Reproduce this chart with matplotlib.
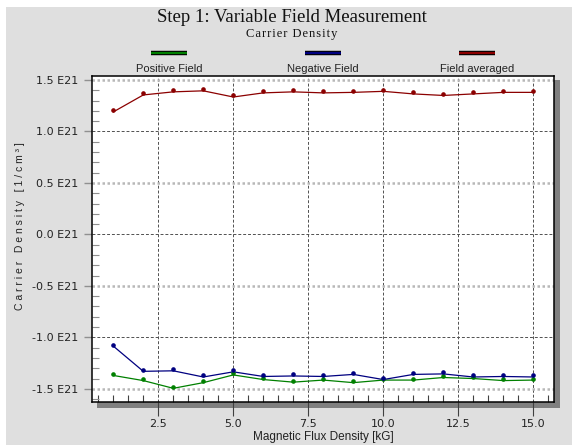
import numpy as np
import matplotlib.pyplot as plt
from matplotlib.patches import Rectangle
from matplotlib.lines import Line2D
from matplotlib.ticker import MultipleLocator, FuncFormatter
from matplotlib import transforms
import matplotlib.patheffects as pe

# field in kG, carrier density in units of 1E21 1/cm^3
field = [1, 2, 3, 4, 5, 6, 7, 8, 9, 10, 11, 12, 13, 14, 15]
positive = [-1.37, -1.42, -1.495, -1.44, -1.365, -1.41, -1.435, -1.415, -1.44,
            -1.415, -1.415, -1.39, -1.40, -1.42, -1.415]
negative = [-1.085, -1.33, -1.325, -1.385, -1.335, -1.38, -1.375, -1.38, -1.36,
            -1.41, -1.36, -1.355, -1.385, -1.38, -1.385]
averaged = [1.19, 1.355, 1.385, 1.395, 1.335, 1.375, 1.385, 1.375, 1.38, 1.39,
            1.365, 1.35, 1.365, 1.38, 1.38]

names = ['Positive Field', 'Negative Field', 'Field averaged']
colors = ['#008000', '#000080', '#8b0000']
series = [positive, negative, averaged]

W, H = 572, 445
fig = plt.figure(figsize=(W / 100, H / 100), dpi=100)
fig.patch.set_facecolor('white')

def fx(px):
    return px / W

def fy(py):
    return 1 - py / H

# gray panel and the drop shadow of the plot box
fig.patches.append(Rectangle((fx(6), 0), 1, fy(7), transform=fig.transFigure,
                             facecolor='#dfdfdf', edgecolor='none', zorder=0))
fig.patches.append(Rectangle((fx(97), fy(408)), fx(560 - 97), (408 - 80) / H,
                             transform=fig.transFigure, facecolor='#808080',
                             edgecolor='none', zorder=1))

ax = fig.add_axes([fx(92), fy(402), fx(554 - 92), (402 - 76) / H])
ax.set_zorder(2)
ax.set_facecolor('white')
ax.set_xlim(0.29, 15.69)
ax.set_ylim(-1.628, 1.539)

for s in ax.spines.values():
    s.set_linewidth(1.1)
    s.set_color('black')

ax.xaxis.set_major_locator(MultipleLocator(2.5))
ax.xaxis.set_minor_locator(MultipleLocator(0.5))
ax.yaxis.set_major_locator(MultipleLocator(0.5))
ax.yaxis.set_minor_locator(MultipleLocator(0.1))
ax.xaxis.set_major_formatter(FuncFormatter(lambda v, p: f'{v:.1f}'))
ax.yaxis.set_major_formatter(FuncFormatter(lambda v, p: f'{v:.1f} E21'))

ax.tick_params(axis='x', which='major', direction='out', length=10, width=0.8,
               color='#404040', labelsize=8, pad=2)
ax.tick_params(axis='x', which='minor', direction='in', length=5, width=0.8,
               color='#404040')
ax.tick_params(axis='y', which='major', direction='out', length=6, width=1,
               color='#909090', labelsize=8, pad=4)
ax.tick_params(axis='y', which='minor', direction='in', length=5, width=0.8,
               color='#909090')
for lab in ax.get_xticklabels() + ax.get_yticklabels():
    lab.set_color('#222222')

# grid
for xv in np.arange(2.5, 15.01, 2.5):
    ax.axvline(xv, color='#505050', lw=0.7, ls=(0, (3, 2)), zorder=1)
for i, yv in enumerate(np.arange(-1.5, 1.51, 0.5)):
    if i % 2 == 0:
        ax.axhline(yv, color='#b8b8b8', lw=1.8, ls=(0, (1, 1)), zorder=1)
    else:
        ax.axhline(yv, color='#505050', lw=0.7, ls=(0, (3, 2)), zorder=1)

# markers sit slightly above the line vertices
dot_trans = transforms.offset_copy(ax.transData, fig=fig, x=0, y=1.5, units='dots')
for vals, c in zip(series, colors):
    ax.plot(field, vals, color=c, lw=0.9, zorder=3)
    ax.plot(field, vals, ls='none', marker='o', ms=2.3, color=c, mec=c,
            transform=dot_trans, zorder=4)

# legend row above the plot
for k, (name, c) in enumerate(zip(names, colors)):
    cx = 169 + k * 154
    ln = Line2D([fx(cx - 18), fx(cx + 18)], [fy(53), fy(53)], transform=fig.transFigure,
                color=c, lw=1.6, solid_capstyle='butt',
                path_effects=[pe.Stroke(linewidth=3.2, foreground='black'), pe.Normal()])
    fig.lines.append(ln)
    fig.text(fx(cx), fy(69), name, ha='center', va='center', fontsize=8,
             color='#222222', family='Liberation Sans')

fig.text(fx(292), fy(17), 'Step 1: Variable Field Measurement', ha='center',
         va='center', fontsize=13.5, family='Liberation Serif', color='#111111')
fig.text(fx(292), fy(34), '\u200a'.join('Carrier Density'), ha='center', va='center',
         fontsize=9, family='Liberation Serif', color='#111111')

fig.text(fx(323), fy(437), 'Magnetic Flux Density [kG]', ha='center', va='center',
         fontsize=8.5, family='Liberation Sans', color='#222222')
fig.text(fx(20), fy(226), 'C a r r i e r   D e n s i t y   [ 1 / c m ³ ]',
         rotation=90, ha='center', va='center', fontsize=7.5,
         family='Liberation Sans', color='#222222')

fig.savefig('out.png', dpi=100)
